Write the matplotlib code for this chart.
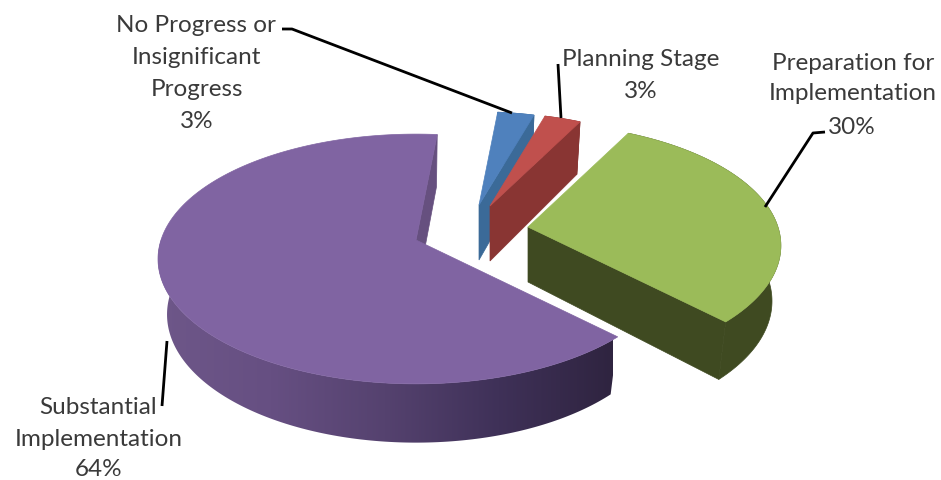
import numpy as np
import matplotlib.pyplot as plt
from matplotlib.colors import LinearSegmentedColormap

# Share of sites at each stage, clockwise from the top of the pie
stages = ["No Progress or Insignificant Progress", "Planning Stage",
          "Preparation for Implementation", "Substantial Implementation"]
shares = [3, 3, 30, 64]

# Look of each slice
top_colors = ["#4f81bd", "#c0504d", "#9bbb59", "#8064a2"]
wall_colors = ["#3b6a98", "#893533", "#3f4a21", None]
end_colors = ["#3b6a98", "#893533", "#3f4a21", "#66507f"]
apex_x = [479, 490, 528, 416]
apex_y = [206, 207, 228, 241]
radius_scale = [0.88, 0.88, 0.98, 1.0]

start_angle = 5.5
R_X, R_Y, PERSP = 255, 122, 0.152
purple_wall = LinearSegmentedColormap.from_list(
    "wall", ["#6e5789", "#664f82", "#55426f", "#3f3158", "#2f2440"])


def project(phi, apex, scale, bottom=False):
    # 3D-ish projection of a rim point, phi in degrees clockwise from the top
    u = np.sin(np.radians(phi))
    v = np.cos(np.radians(phi))
    s = 1 / (1 + PERSP * v)
    x = R_X * scale * u * s
    y = -R_Y * scale * v * s
    if bottom:
        return apex[0] + x * 0.965, apex[1] + y + 34 + 21 * s
    return apex[0] + x, apex[1] + y


plt.rcParams['font.family'] = ['Lato', 'DejaVu Sans']
fig = plt.figure(figsize=(9.41, 4.81), dpi=100)
ax = fig.add_axes([0, 0, 1, 1])
ax.axis('off')

angles = start_angle + np.cumsum([0] + shares) * 3.6
for i in range(len(shares)):
    a0, a1 = angles[i], angles[i + 1]
    apex = (apex_x[i], apex_y[i])
    scale = radius_scale[i]
    phis = np.linspace(a0, a1, 240)
    top = np.array([project(p, apex, scale) for p in phis])
    bot = np.array([project(p, apex, scale, True) for p in phis])

    # outer wall, the shaded one is a gradient clipped to the wall outline
    wall_x = np.r_[top[:, 0], bot[::-1, 0]]
    wall_y = np.r_[top[:, 1], bot[::-1, 1]]
    if wall_colors[i] is not None:
        ax.fill(wall_x, wall_y, color=wall_colors[i], lw=0.5, zorder=i)
    else:
        outline = ax.fill(wall_x, wall_y, facecolor='none', edgecolor='none')[0]
        ramp = ax.imshow(np.linspace(0, 1, 256)[None, :], cmap=purple_wall,
                         extent=(157, 613, 460, 240), aspect='auto', zorder=i)
        ramp.set_clip_path(outline)

    # cut face at the clockwise end of the slice
    apex_low = (apex[0], apex[1] + 34 + 21)
    ax.fill([apex[0], top[-1, 0], bot[-1, 0], apex_low[0]],
            [apex[1], top[-1, 1], bot[-1, 1], apex_low[1]],
            color=end_colors[i], lw=0.5, zorder=i + 0.1)

    # top face
    ax.fill(np.r_[apex[0], top[:, 0]], np.r_[apex[1], top[:, 1]],
            color=top_colors[i], lw=0.5, zorder=i + 0.2)

ax.set_xlim(0, 941)
ax.set_ylim(481, 0)

# leader lines
leaders = [([282, 292, 512], [30, 30, 114]),
           ([558, 561], [65, 119]),
           ([825, 813, 765], [133, 134, 208]),
           ([162, 167], [407, 342])]
for lx, ly in leaders:
    ax.plot(lx, ly, color='black', lw=2, solid_capstyle='butt', zorder=10)

# data labels, line by line
label_lines = [("No Progress or", 196, 26), ("Insignificant", 196, 58),
               ("Progress", 197, 90), ("3%", 197, 122),
               ("Planning Stage", 641, 59), ("3%", 641, 91),
               ("Preparation for", 853, 63), ("Implementation", 853, 94),
               ("30%", 852, 127),
               ("Substantial", 98, 408), ("Implementation", 99, 440),
               ("64%", 99, 470)]
for text, tx, ty in label_lines:
    ax.text(tx, ty, text, ha='center', va='center', fontsize=17.5,
            color='#3a3a3a', zorder=11)

fig.savefig('out.png', dpi=100)
